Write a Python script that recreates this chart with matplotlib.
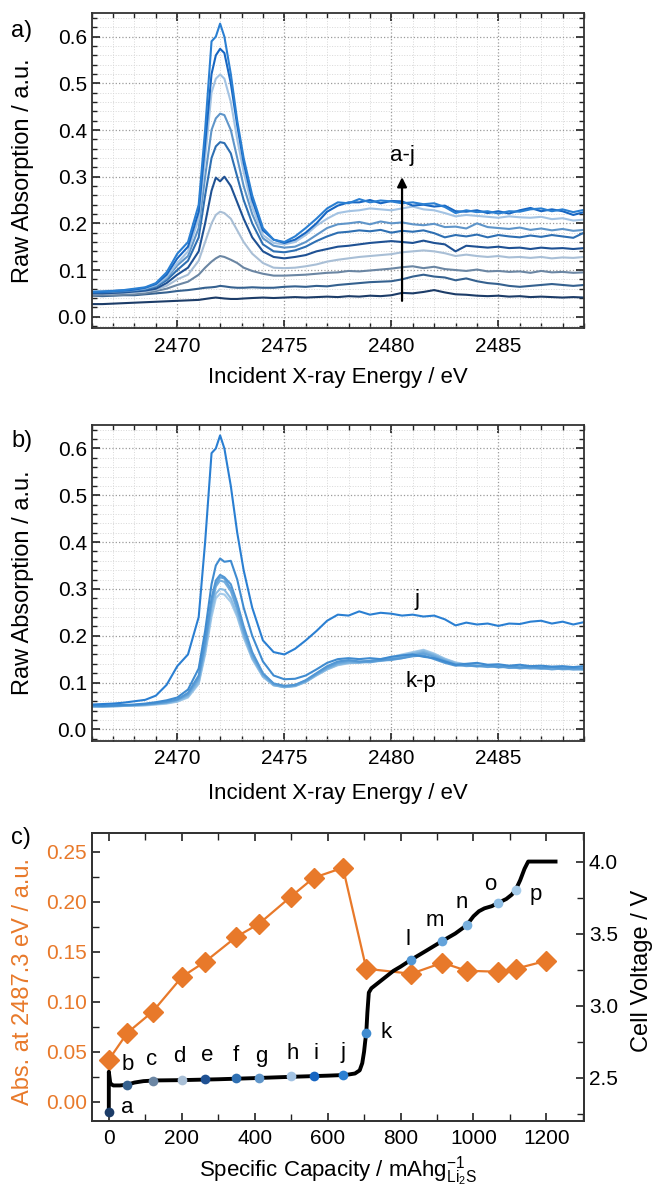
import matplotlib
matplotlib.use("Agg")
import matplotlib.pyplot as plt
from matplotlib.ticker import MultipleLocator, FormatStrFormatter

plt.rcParams['font.family'] = ['Liberation Sans', 'DejaVu Sans']
plt.rcParams['mathtext.default'] = 'regular'

# ---- data: S K-edge spectra (panel a: a-j, panel b: j and k-p) ----
energy = [2466.0, 2466.5, 2467.0, 2467.5, 2468.0, 2468.5, 2469.0, 2469.5, 2470.0, 2470.5,
          2471.0, 2471.3, 2471.6, 2471.8, 2472.0, 2472.2, 2472.5, 2472.8, 2473.1, 2473.5,
          2474.0, 2474.5, 2475.0, 2475.5, 2476.0, 2476.5, 2477.0, 2477.5, 2478.0, 2478.5,
          2479.0, 2479.5, 2480.0, 2480.5, 2481.0, 2481.5, 2482.0, 2482.5, 2483.0, 2483.5,
          2484.0, 2484.5, 2485.0, 2485.5, 2486.0, 2486.5, 2487.0, 2487.5, 2488.0, 2488.5, 2489.0]

spec_a = [0.027, 0.027, 0.028, 0.029, 0.030, 0.031, 0.032, 0.033, 0.034, 0.035,
          0.036, 0.038, 0.040, 0.041, 0.040, 0.039, 0.038, 0.038, 0.039, 0.040,
          0.041, 0.040, 0.041, 0.042, 0.041, 0.042, 0.043, 0.042, 0.044, 0.043,
          0.045, 0.044, 0.046, 0.051, 0.050, 0.053, 0.057, 0.052, 0.048, 0.047,
          0.045, 0.044, 0.045, 0.043, 0.044, 0.042, 0.043, 0.042, 0.041, 0.042, 0.041]
spec_b = [0.045, 0.044, 0.045, 0.046, 0.046, 0.048, 0.050, 0.052, 0.055, 0.057,
          0.060, 0.062, 0.063, 0.064, 0.066, 0.065, 0.063, 0.062, 0.062, 0.063,
          0.062, 0.062, 0.064, 0.065, 0.064, 0.066, 0.065, 0.068, 0.070, 0.072,
          0.074, 0.075, 0.076, 0.080, 0.086, 0.090, 0.086, 0.084, 0.078, 0.082,
          0.076, 0.072, 0.070, 0.066, 0.064, 0.066, 0.068, 0.070, 0.068, 0.066, 0.068]
spec_c = [0.045, 0.046, 0.046, 0.047, 0.048, 0.050, 0.055, 0.060, 0.068, 0.075,
          0.090, 0.105, 0.118, 0.125, 0.130, 0.128, 0.122, 0.115, 0.105, 0.098,
          0.092, 0.088, 0.088, 0.089, 0.090, 0.092, 0.094, 0.095, 0.098, 0.097,
          0.099, 0.101, 0.103, 0.106, 0.108, 0.104, 0.107, 0.102, 0.100, 0.098,
          0.101, 0.097, 0.098, 0.096, 0.097, 0.094, 0.098, 0.095, 0.096, 0.094, 0.095]
spec_d = [0.050, 0.050, 0.050, 0.051, 0.052, 0.054, 0.058, 0.066, 0.080, 0.090,
          0.120, 0.160, 0.200, 0.218, 0.225, 0.222, 0.210, 0.185, 0.160, 0.135,
          0.115, 0.105, 0.104, 0.105, 0.108, 0.112, 0.118, 0.122, 0.125, 0.128,
          0.130, 0.132, 0.134, 0.138, 0.140, 0.142, 0.140, 0.136, 0.130, 0.133,
          0.130, 0.128, 0.130, 0.127, 0.128, 0.126, 0.128, 0.125, 0.127, 0.126, 0.128]
spec_e = [0.050, 0.050, 0.051, 0.052, 0.054, 0.056, 0.060, 0.072, 0.090, 0.105,
          0.140, 0.200, 0.270, 0.298, 0.290, 0.300, 0.280, 0.245, 0.210, 0.170,
          0.140, 0.128, 0.125, 0.128, 0.132, 0.140, 0.145, 0.150, 0.152, 0.155,
          0.158, 0.160, 0.162, 0.160, 0.158, 0.163, 0.158, 0.155, 0.140, 0.152,
          0.150, 0.148, 0.150, 0.147, 0.148, 0.145, 0.148, 0.146, 0.147, 0.145, 0.147]
spec_f = [0.052, 0.052, 0.053, 0.054, 0.056, 0.058, 0.064, 0.078, 0.100, 0.120,
          0.170, 0.260, 0.340, 0.365, 0.374, 0.372, 0.350, 0.300, 0.250, 0.200,
          0.155, 0.140, 0.138, 0.142, 0.150, 0.162, 0.172, 0.180, 0.182, 0.185,
          0.183, 0.186, 0.180, 0.184, 0.182, 0.185, 0.179, 0.170, 0.175, 0.172,
          0.176, 0.170, 0.175, 0.172, 0.170, 0.174, 0.171, 0.175, 0.172, 0.169, 0.180]
spec_g = [0.053, 0.054, 0.054, 0.055, 0.057, 0.060, 0.066, 0.082, 0.110, 0.130,
          0.190, 0.300, 0.400, 0.425, 0.435, 0.432, 0.400, 0.340, 0.280, 0.220,
          0.168, 0.152, 0.148, 0.150, 0.160, 0.175, 0.190, 0.198, 0.200, 0.203,
          0.198, 0.204, 0.200, 0.202, 0.198, 0.196, 0.199, 0.192, 0.193, 0.189,
          0.200, 0.192, 0.190, 0.188, 0.191, 0.186, 0.189, 0.185, 0.188, 0.184, 0.186]
spec_h = [0.055, 0.055, 0.056, 0.057, 0.058, 0.061, 0.068, 0.085, 0.115, 0.140,
          0.210, 0.340, 0.480, 0.510, 0.519, 0.510, 0.460, 0.380, 0.310, 0.235,
          0.175, 0.158, 0.155, 0.160, 0.175, 0.195, 0.210, 0.222, 0.226, 0.228,
          0.232, 0.230, 0.228, 0.232, 0.236, 0.230, 0.228, 0.222, 0.215, 0.218,
          0.216, 0.214, 0.212, 0.215, 0.213, 0.212, 0.214, 0.209, 0.211, 0.206, 0.208]
spec_i = [0.052, 0.053, 0.055, 0.056, 0.058, 0.062, 0.070, 0.090, 0.125, 0.150,
          0.225, 0.370, 0.520, 0.560, 0.574, 0.565, 0.500, 0.410, 0.330, 0.250,
          0.185, 0.165, 0.158, 0.165, 0.180, 0.200, 0.225, 0.238, 0.245, 0.245,
          0.250, 0.243, 0.248, 0.247, 0.238, 0.240, 0.236, 0.238, 0.226, 0.225,
          0.228, 0.222, 0.226, 0.221, 0.228, 0.233, 0.226, 0.230, 0.226, 0.218, 0.224]
spec_j = [0.053, 0.054, 0.055, 0.057, 0.060, 0.063, 0.072, 0.095, 0.135, 0.160,
          0.240, 0.400, 0.590, 0.600, 0.628, 0.600, 0.520, 0.420, 0.340, 0.260,
          0.190, 0.165, 0.160, 0.172, 0.190, 0.210, 0.232, 0.245, 0.243, 0.252,
          0.245, 0.249, 0.247, 0.243, 0.245, 0.241, 0.243, 0.235, 0.222, 0.228,
          0.224, 0.226, 0.221, 0.226, 0.225, 0.230, 0.232, 0.226, 0.230, 0.224, 0.229]
spec_k = [0.052, 0.050, 0.051, 0.052, 0.053, 0.055, 0.058, 0.062, 0.068, 0.085,
          0.130, 0.210, 0.310, 0.350, 0.365, 0.358, 0.360, 0.320, 0.260, 0.200,
          0.145, 0.115, 0.107, 0.108, 0.115, 0.128, 0.142, 0.150, 0.152, 0.150,
          0.152, 0.150, 0.155, 0.158, 0.160, 0.155, 0.152, 0.145, 0.138, 0.140,
          0.142, 0.138, 0.139, 0.136, 0.138, 0.135, 0.136, 0.134, 0.135, 0.133, 0.135]
spec_l = [0.050, 0.049, 0.050, 0.051, 0.052, 0.054, 0.056, 0.059, 0.064, 0.078,
          0.115, 0.190, 0.280, 0.318, 0.330, 0.325, 0.310, 0.270, 0.220, 0.165,
          0.120, 0.098, 0.093, 0.095, 0.105, 0.120, 0.135, 0.145, 0.148, 0.145,
          0.146, 0.148, 0.150, 0.152, 0.156, 0.158, 0.150, 0.142, 0.136, 0.138,
          0.135, 0.137, 0.133, 0.135, 0.132, 0.134, 0.131, 0.133, 0.130, 0.131, 0.130]
spec_m = [0.050, 0.050, 0.051, 0.052, 0.052, 0.053, 0.055, 0.058, 0.063, 0.075,
          0.110, 0.180, 0.270, 0.310, 0.325, 0.322, 0.300, 0.260, 0.210, 0.160,
          0.118, 0.097, 0.092, 0.094, 0.104, 0.118, 0.132, 0.142, 0.146, 0.144,
          0.143, 0.147, 0.148, 0.152, 0.158, 0.162, 0.155, 0.146, 0.138, 0.135,
          0.136, 0.133, 0.135, 0.131, 0.132, 0.130, 0.131, 0.128, 0.130, 0.128, 0.129]
spec_n = [0.049, 0.050, 0.050, 0.051, 0.052, 0.053, 0.055, 0.057, 0.062, 0.073,
          0.105, 0.175, 0.265, 0.305, 0.318, 0.315, 0.295, 0.255, 0.205, 0.155,
          0.115, 0.095, 0.090, 0.093, 0.102, 0.117, 0.130, 0.140, 0.143, 0.142,
          0.145, 0.146, 0.150, 0.155, 0.160, 0.165, 0.158, 0.148, 0.140, 0.137,
          0.134, 0.136, 0.132, 0.134, 0.130, 0.132, 0.129, 0.131, 0.128, 0.129, 0.127]
spec_o = [0.048, 0.049, 0.049, 0.050, 0.051, 0.052, 0.054, 0.056, 0.060, 0.070,
          0.100, 0.165, 0.250, 0.290, 0.300, 0.298, 0.280, 0.245, 0.200, 0.152,
          0.113, 0.094, 0.090, 0.092, 0.101, 0.115, 0.128, 0.138, 0.142, 0.144,
          0.146, 0.148, 0.152, 0.158, 0.163, 0.168, 0.160, 0.150, 0.142, 0.138,
          0.136, 0.134, 0.136, 0.132, 0.133, 0.131, 0.132, 0.129, 0.131, 0.128, 0.130]
spec_p = [0.048, 0.048, 0.049, 0.050, 0.050, 0.051, 0.053, 0.055, 0.059, 0.068,
          0.097, 0.160, 0.240, 0.280, 0.290, 0.288, 0.272, 0.240, 0.196, 0.150,
          0.112, 0.094, 0.091, 0.093, 0.102, 0.116, 0.128, 0.137, 0.141, 0.143,
          0.147, 0.150, 0.154, 0.160, 0.165, 0.170, 0.162, 0.151, 0.143, 0.139,
          0.137, 0.135, 0.137, 0.133, 0.134, 0.132, 0.133, 0.130, 0.132, 0.129, 0.131]

spectra_aj = [spec_a, spec_b, spec_c, spec_d, spec_e, spec_f, spec_g, spec_h, spec_i, spec_j]
spectra_kp = [spec_k, spec_l, spec_m, spec_n, spec_o, spec_p]

# ---- data: panel c ----
letters = list("abcdefghijklmnop")
point_capacity = [0, 51, 120, 201, 264, 350, 412, 499, 562, 642, 706, 829, 915, 981, 1068, 1116]
point_voltage = [2.261, 2.45, 2.479, 2.48, 2.49, 2.495, 2.50, 2.51, 2.51, 2.518,
                 2.81, 3.318, 3.449, 3.557, 3.713, 3.805]

abs_capacity = [0, 51, 120, 201, 264, 350, 412, 499, 562, 642, 706, 829, 915, 981, 1068, 1116, 1200]
abs_value = [0.042, 0.069, 0.090, 0.125, 0.140, 0.165, 0.178, 0.205, 0.224, 0.234,
             0.133, 0.128, 0.139, 0.131, 0.130, 0.133, 0.141]

curve_capacity = [0, 0, 4, 12, 30, 50, 70, 95, 130, 200, 300, 400, 500, 600, 650, 675, 688,
                  695, 700, 703, 706, 709, 713, 720, 740, 760, 780, 800, 829, 870, 915, 950,
                  981, 1000, 1015, 1030, 1050, 1068, 1090, 1105, 1116, 1128, 1140, 1150, 1225]
curve_voltage = [2.26, 2.54, 2.46, 2.445, 2.445, 2.45, 2.465, 2.475, 2.48, 2.482, 2.488,
                 2.496, 2.505, 2.513, 2.518, 2.528, 2.55, 2.6, 2.68, 2.75, 2.81, 2.95, 3.09,
                 3.12, 3.16, 3.2, 3.24, 3.27, 3.318, 3.38, 3.449, 3.5, 3.557, 3.62, 3.655,
                 3.675, 3.69, 3.713, 3.74, 3.77, 3.805, 3.87, 3.95, 4.0, 4.0]

# colours per measurement a..p
colors = ['#1c3c68', '#35618f', '#6b86a3', '#a9bfd6', '#1f5193', '#2e6fb2',
          '#5f95c9', '#a3c3e3', '#1766c2', '#2a7fd2',
          '#3f8bd0', '#5297d4', '#64a3da', '#78b0de', '#8dbde4', '#a5cbea']

ORANGE = '#e8792a'
TICK_FS = 15
XLABEL_FS = 16
YLABEL_FS = 17
NOTE_FS = 16

fig = plt.figure(figsize=(6.53, 11.91), dpi=100)
ax_a = fig.add_axes([0.1404, 0.7243, 0.7539, 0.2645])
ax_b = fig.add_axes([0.1404, 0.3778, 0.7539, 0.2653])
ax_c = fig.add_axes([0.1404, 0.0590, 0.7539, 0.2418])


def style_spectrum_axes(ax):
    ax.set_xlim(2466, 2489)
    ax.set_ylim(-0.025, 0.65)
    ax.xaxis.set_major_locator(MultipleLocator(5))
    ax.xaxis.set_minor_locator(MultipleLocator(1))
    ax.yaxis.set_major_locator(MultipleLocator(0.1))
    ax.yaxis.set_minor_locator(MultipleLocator(0.02))
    ax.yaxis.set_major_formatter(FormatStrFormatter('%.1f'))
    ax.grid(which='major', ls=':', color='#9a9a9a', lw=0.9)
    ax.grid(which='minor', ls=':', color='#d8d8d8', lw=0.7)
    ax.set_axisbelow(True)
    ax.tick_params(which='both', direction='in', top=True, right=True,
                   labelsize=TICK_FS, color='#222222')
    ax.tick_params(which='major', length=6, width=1.2)
    ax.tick_params(which='minor', length=3.5, width=1.0)
    ax.tick_params(axis='x', pad=6)
    for s in ax.spines.values():
        s.set_linewidth(1.3)
        s.set_color('#333333')
    ax.set_xlabel('Incident X-ray Energy / eV', fontsize=XLABEL_FS, va='center')
    ax.set_ylabel('Raw Absorption / a.u.', fontsize=YLABEL_FS, va='center')
    ax.yaxis.set_label_coords(-0.1395, 0.50)


# panel a
for spec, col in zip(spectra_aj, colors[:10]):
    ax_a.plot(energy, spec, color=col, lw=1.5)
style_spectrum_axes(ax_a)
ax_a.xaxis.set_label_coords(0.5, -0.155)
ax_a.annotate('', xy=(2480.5, 0.305), xytext=(2480.5, 0.028),
              arrowprops=dict(arrowstyle='-|>', color='black', lw=1.6, mutation_scale=14))
ax_a.text(2480.5, 0.345, 'a-j', fontsize=NOTE_FS, ha='center', va='center')

# panel b
for spec, col in zip(spectra_kp[::-1], colors[10:][::-1]):
    ax_b.plot(energy, spec, color=col, lw=1.5)
ax_b.plot(energy, spec_j, color=colors[9], lw=1.5)
style_spectrum_axes(ax_b)
ax_b.xaxis.set_label_coords(0.5, -0.165)
ax_b.text(2481.2, 0.277, 'j', fontsize=NOTE_FS, ha='center', va='center')
ax_b.text(2481.4, 0.102, 'k-p', fontsize=NOTE_FS, ha='center', va='center')

# panel c
ax_v = ax_c.twinx()
ax_c.plot(abs_capacity, abs_value, color=ORANGE, lw=1.6, marker='D', ms=10,
          mec=ORANGE, mfc=ORANGE, zorder=3)
ax_v.plot(curve_capacity, curve_voltage, color='black', lw=2.8, zorder=2,
          solid_joinstyle='round')
for cap, volt, col in zip(point_capacity, point_voltage, colors):
    ax_v.plot(cap, volt, 'o', ms=7, color=col, mec='none', zorder=4)

label_offsets = [(18, 4), (0, 20), (-1, 21), (-3, 24), (2, 23), (-1, 23), (2, 21), (2, 23),
                 (2, 23), (0, 22), (20, 0), (-3, 20), (-8, 20), (-5, 23), (-8, 18), (20, -5)]
for letter, cap, volt, off in zip(letters, point_capacity, point_voltage, label_offsets):
    ax_v.annotate(letter, (cap, volt), xytext=off, textcoords='offset pixels',
                  fontsize=NOTE_FS, ha='center', va='center')

ax_c.set_xlim(-47, 1303)
ax_c.set_ylim(-0.019, 0.269)
ax_v.set_ylim(2.2, 4.2)
ax_c.xaxis.set_major_locator(MultipleLocator(200))
ax_c.xaxis.set_minor_locator(MultipleLocator(100))
ax_c.yaxis.set_major_locator(MultipleLocator(0.05))
ax_c.yaxis.set_minor_locator(MultipleLocator(0.025))
ax_c.yaxis.set_major_formatter(FormatStrFormatter('%.2f'))
ax_v.yaxis.set_major_locator(MultipleLocator(0.5))
ax_v.yaxis.set_minor_locator(MultipleLocator(0.25))
ax_v.yaxis.set_major_formatter(FormatStrFormatter('%.1f'))

ax_c.tick_params(which='both', direction='in', top=True, labelsize=TICK_FS, color='#222222')
ax_c.tick_params(axis='y', labelcolor=ORANGE)
ax_c.tick_params(axis='x', pad=6)
ax_c.tick_params(which='major', length=6, width=1.2)
ax_c.tick_params(which='minor', length=5, width=1.0)
ax_v.tick_params(which='both', direction='in', labelsize=TICK_FS, color='#222222')
ax_v.tick_params(which='major', length=6, width=1.2)
ax_v.tick_params(which='minor', length=5, width=1.0)
for ax in (ax_c, ax_v):
    for s in ax.spines.values():
        s.set_linewidth(1.3)
        s.set_color('#333333')

ax_c.set_xlabel('Specific Capacity / mAhg$^{-1}_{Li_2S}$', fontsize=XLABEL_FS, va='center')
ax_c.xaxis.set_label_coords(0.5, -0.178)
ax_c.set_ylabel('Abs. at 2487.3 eV / a.u.', fontsize=YLABEL_FS, color=ORANGE, va='center')
ax_c.yaxis.set_label_coords(-0.1395, 0.485)
ax_v.set_ylabel('Cell Voltage / V', fontsize=YLABEL_FS, rotation=90, va='center')
ax_v.yaxis.set_label_coords(1.117, 0.52)

# panel letters
fig.text(22 / 653, 1 - 31 / 1191, 'a)', fontsize=17, ha='center', va='center')
fig.text(22 / 653, 1 - 441 / 1191, 'b)', fontsize=17, ha='center', va='center')
fig.text(21 / 653, 1 - 838 / 1191, 'c)', fontsize=17, ha='center', va='center')

fig.savefig('out.png', dpi=100)
